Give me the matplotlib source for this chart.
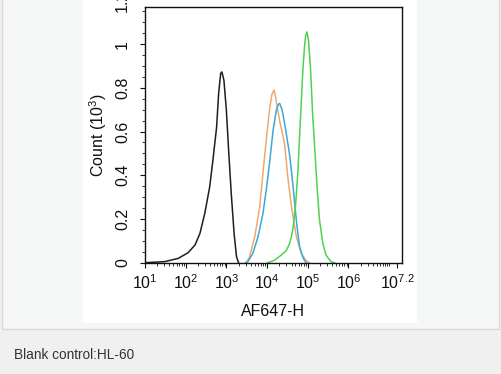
import numpy as np
import matplotlib
matplotlib.use("Agg")
import matplotlib.pyplot as plt
from matplotlib.patches import Rectangle
from matplotlib.ticker import FixedLocator, NullFormatter, AutoMinorLocator

plt.rcParams["font.family"] = ["Liberation Sans", "DejaVu Sans"]
plt.rcParams["mathtext.default"] = "regular"

# histogram traces, x given as log10(AF647-H), y as count (10^3)
black_lx = [1.0, 1.2, 1.49, 1.82, 2.06, 2.23, 2.35, 2.47, 2.59, 2.67, 2.76,
            2.81, 2.86, 2.89, 2.94, 3.0, 3.06, 3.12, 3.19, 3.25, 3.30]
black_y = [0.0, 0.002, 0.005, 0.02, 0.046, 0.081, 0.134, 0.226, 0.347, 0.47, 0.62,
           0.774, 0.866, 0.873, 0.835, 0.698, 0.5, 0.317, 0.134, 0.027, 0.0]

orange_lx = [3.49, 3.57, 3.70, 3.82, 3.90, 3.98, 4.06, 4.12, 4.17, 4.21, 4.26,
             4.32, 4.38, 4.43, 4.51, 4.60, 4.72, 4.84, 4.96, 5.04]
orange_y = [0.0, 0.027, 0.12, 0.256, 0.41, 0.56, 0.70, 0.77, 0.79, 0.76, 0.70,
            0.64, 0.59, 0.546, 0.393, 0.256, 0.119, 0.043, 0.009, 0.0]

blue_lx = [3.47, 3.53, 3.65, 3.78, 3.90, 3.98, 4.06, 4.15, 4.23, 4.28, 4.31,
           4.37, 4.43, 4.49, 4.55, 4.60, 4.64, 4.68, 4.72, 4.76, 4.80, 4.89, 4.96]
blue_y = [0.0, 0.005, 0.043, 0.119, 0.226, 0.332, 0.454, 0.607, 0.70, 0.725, 0.729,
          0.70, 0.64, 0.57, 0.50, 0.42, 0.347, 0.27, 0.195, 0.13, 0.073, 0.02, 0.0]

green_lx = [4.02, 4.19, 4.35, 4.47, 4.55, 4.60, 4.64, 4.70, 4.76, 4.80, 4.84, 4.88,
            4.92, 4.95, 4.98, 5.02, 5.07, 5.12, 5.18, 5.23, 5.29, 5.37, 5.45, 5.57, 5.66]
green_y = [0.0, 0.012, 0.035, 0.055, 0.085, 0.12, 0.16, 0.26, 0.42, 0.58, 0.729, 0.881,
           0.987, 1.04, 1.056, 1.018, 0.881, 0.683, 0.50, 0.347, 0.195, 0.089, 0.035, 0.005, 0.0]

x_ticks_exp = [1, 2, 3, 4, 5, 6, 7.2]
x_tick_labels = [r"$10^{1}$", r"$10^{2}$", r"$10^{3}$", r"$10^{4}$",
                 r"$10^{5}$", r"$10^{6}$", r"$10^{7.2}$"]
y_ticks = [0, 0.2, 0.4, 0.6, 0.8, 1]
y_tick_labels = ["0", "0.2", "0.4", "0.6", "0.8", "1"]

W, H = 501, 374
INK = "#111111"
fig = plt.figure(figsize=(W / 100, H / 100), dpi=100, facecolor="#eff0ef")

# page panel + white image area
fig.patches.append(Rectangle((2 / W, 1 - 329 / H), 497 / W, 329 / H + 0.01,
                             transform=fig.transFigure, facecolor="#f5f7f6",
                             edgecolor="#d8dad9", linewidth=1, zorder=-10))
fig.patches.append(Rectangle((83 / W, 1 - 323 / H), 334 / W, 323 / H + 0.01,
                             transform=fig.transFigure, facecolor="white",
                             edgecolor="none", zorder=-9))

ax = fig.add_axes([145 / W, 1 - 262.7 / H, 256.7 / W, 255.7 / H])
ax.set_zorder(5)
ax.set_facecolor("white")

series = [
    (orange_lx, orange_y, "#f0a86e"),
    (blue_lx, blue_y, "#38a9d9"),
    (green_lx, green_y, "#4fd24f"),
    (black_lx, black_y, "#1e1e1e"),
]
for lx, yy, col in series:
    ax.plot(10 ** np.array(lx), yy, color=col, linewidth=1.1)

ax.set_xscale("log")
ax.set_xlim(10 ** 1, 10 ** 7.31)
ax.set_ylim(0, 1.17)

major = [10 ** e for e in x_ticks_exp]
ax.xaxis.set_major_locator(FixedLocator(major))
ax.set_xticklabels(x_tick_labels)
minor = [m * 10 ** d for d in range(1, 7) for m in range(2, 10)] + [1e7]
ax.xaxis.set_minor_locator(FixedLocator(minor))
ax.xaxis.set_minor_formatter(NullFormatter())

ax.set_yticks(y_ticks)
ax.set_yticklabels(y_tick_labels, rotation=90, va="center", ha="right")
ax.yaxis.set_minor_locator(AutoMinorLocator(4))

ax.tick_params(which="major", direction="out", length=3.8, width=0.8,
               labelsize=11.5, colors=INK)
ax.tick_params(axis="y", which="major", pad=7)
ax.tick_params(axis="x", which="major", pad=4)
ax.tick_params(which="minor", direction="out", length=2.2, width=0.6, colors=INK)
for s in ax.spines.values():
    s.set_color(INK)
    s.set_linewidth(1.0)

# top tick label sits above the frame
ax.annotate("1.2", xy=(0, 1.2), xycoords=("axes fraction", "data"),
            xytext=(-10.8, 0), textcoords="offset points", rotation=90,
            ha="right", va="center", fontsize=11.5, color=INK,
            annotation_clip=False)

ax.set_xlabel("AF647-H", fontsize=11.5, color=INK)
ax.xaxis.label.set_va("center")
ax.xaxis.set_label_coords(0.5, -0.189)
ax.set_ylabel(r"Count (10$^{3}$)", fontsize=11.5, color=INK)
ax.yaxis.label.set_va("center")
ax.yaxis.set_label_coords(-0.183, 0.5)

# clipped title at top edge
fig.text(268 / W, 1 + 4 / H, "CD 14.6001 AF1", ha="center", va="center",
         fontsize=11, color="#a8a8a8")

fig.text(14 / W, 1 - 355 / H, "Blank control:HL-60", ha="left", va="center",
         fontsize=9.8, color="#333333")

fig.savefig("out.png", dpi=100, facecolor=fig.get_facecolor())
